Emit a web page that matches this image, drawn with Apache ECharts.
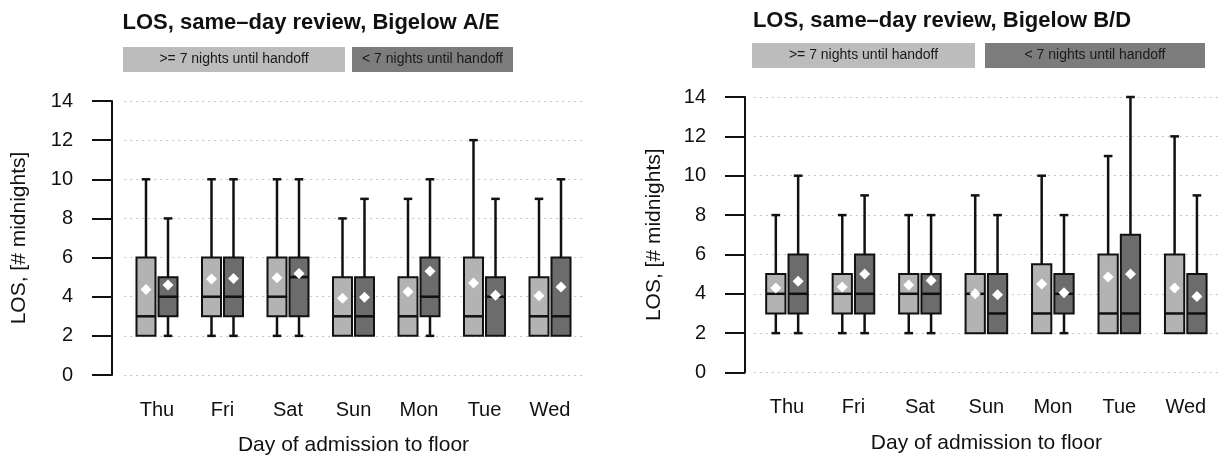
<!DOCTYPE html>
<html>
<head>
<meta charset="utf-8">
<script src="https://cdn.jsdelivr.net/npm/echarts@6/dist/echarts.min.js"></script>
<style>
  html, body { margin: 0; padding: 0; background: #fff; }
  #chart { width: 1219px; height: 461px; }
</style>
</head>
<body>
<div id="chart"></div>
<script>
// Day of admission to floor
const days = ['Thu', 'Fri', 'Sat', 'Sun', 'Mon', 'Tue', 'Wed'];
const yTicks = [0, 2, 4, 6, 8, 10, 12, 14];

// Length of stay per day: [lower whisker, Q1, median, Q3, upper whisker, mean]
// Bigelow A/E
const aeLong = [
  [2, 2, 3, 6, 10, 4.37],
  [2, 3, 4, 6, 10, 4.9],
  [2, 3, 4, 6, 10, 4.97],
  [2, 2, 3, 5, 8, 3.92],
  [2, 2, 3, 5, 9, 4.25],
  [2, 2, 3, 6, 12, 4.7],
  [2, 2, 3, 5, 9, 4.05]
];
const aeShort = [
  [2, 3, 4, 5, 8, 4.6],
  [2, 3, 4, 6, 10, 4.93],
  [2, 3, 5, 6, 10, 5.18],
  [2, 2, 3, 5, 9, 3.97],
  [2, 3, 4, 6, 10, 5.3],
  [2, 2, 4, 5, 9, 4.08],
  [2, 2, 3, 6, 10, 4.5]
];
// Bigelow B/D
const bdLong = [
  [2, 3, 4, 5, 8, 4.3],
  [2, 3, 4, 5, 8, 4.34],
  [2, 3, 4, 5, 8, 4.45],
  [2, 2, 4, 5, 9, 4.0],
  [2, 2, 3, 5.5, 10, 4.5],
  [2, 2, 3, 6, 11, 4.85],
  [2, 2, 3, 6, 12, 4.3]
];
const bdShort = [
  [2, 3, 4, 6, 10, 4.64],
  [2, 3, 4, 6, 9, 5.0],
  [2, 3, 4, 5, 8, 4.68],
  [2, 2, 3, 5, 8, 3.95],
  [2, 3, 4, 5, 8, 4.05],
  [2, 2, 3, 7, 14, 5.0],
  [2, 2, 3, 5, 9, 3.86]
];

const groupNames = ['>= 7 nights until handoff', '< 7 nights until handoff'];
const titles = ['LOS, same\u2013day review, Bigelow A/E', 'LOS, same\u2013day review, Bigelow B/D'];

const FONT = '"Liberation Sans", Arial, Helvetica, sans-serif';
const LIGHT = '#b3b3b3';
const DARK = '#6c6c6c';
const INK = '#111';

// One box-and-whisker glyph per category, shifted left or right of the band centre
function boxRenderer(side, fill) {
  return function (params, api) {
    const i = api.value(0);
    const low = api.value(1), q1 = api.value(2), med = api.value(3);
    const q3 = api.value(4), high = api.value(5), mean = api.value(6);
    const bw = api.size([1, 0])[0];
    const cx = api.coord([i, 0])[0] + side * 0.168 * bw;
    const hw = 0.145 * bw;
    const cap = 0.45 * hw;
    const y = v => api.coord([i, v])[1];
    const line = { stroke: INK, lineWidth: 2.5 };
    const kids = [];
    kids.push({ type: 'line', shape: { x1: cx, y1: y(q3), x2: cx, y2: y(high) }, style: line });
    kids.push({ type: 'line', shape: { x1: cx - cap, y1: y(high), x2: cx + cap, y2: y(high) }, style: line });
    if (low < q1) {
      kids.push({ type: 'line', shape: { x1: cx, y1: y(q1), x2: cx, y2: y(low) }, style: line });
      kids.push({ type: 'line', shape: { x1: cx - cap, y1: y(low), x2: cx + cap, y2: y(low) }, style: line });
    }
    kids.push({
      type: 'rect',
      shape: { x: cx - hw, y: y(q3), width: 2 * hw, height: y(q1) - y(q3) },
      style: { fill: fill, stroke: INK, lineWidth: 2 }
    });
    kids.push({ type: 'line', shape: { x1: cx - hw, y1: y(med), x2: cx + hw, y2: y(med) }, style: { stroke: INK, lineWidth: 2.5 } });
    const ym = y(mean), d = 5.5;
    kids.push({
      type: 'polygon',
      shape: { points: [[cx, ym - d], [cx + d, ym], [cx, ym + d], [cx - d, ym]] },
      style: { fill: '#fff' }
    });
    return { type: 'group', children: kids };
  };
}

function toData(arr) {
  return arr.map((s, i) => [i].concat(s));
}

const grids = [
  { left: 124.25, top: 101, width: 458.5, height: 276 },
  { left: 753.75, top: 97, width: 466.5, height: 275.5 }
];
const yOffsets = [12.25, 8.75];
const yNameGap = [82, 80];

const xAxes = grids.map((g, k) => ({
  type: 'category',
  gridIndex: k,
  data: days,
  axisLine: { show: false },
  axisTick: { show: false },
  axisLabel: { fontSize: 20, color: INK, fontFamily: FONT, margin: 25 },
  name: 'Day of admission to floor',
  nameLocation: 'middle',
  nameGap: 60,
  nameTextStyle: { fontSize: 21, color: INK, fontFamily: FONT }
}));

const yAxes = grids.map((g, k) => ({
  type: 'value',
  gridIndex: k,
  min: yTicks[0],
  max: yTicks[yTicks.length - 1],
  interval: yTicks[1] - yTicks[0],
  offset: yOffsets[k],
  axisLine: { show: true, lineStyle: { color: INK, width: 2 } },
  axisTick: { show: true, length: 20, lineStyle: { color: INK, width: 2 } },
  axisLabel: { fontSize: 20, color: INK, fontFamily: FONT, margin: 39 },
  splitLine: { show: true, lineStyle: { color: '#c4c4c4', type: [2, 4], width: 1.2 } },
  name: 'LOS, [# midnights]',
  nameLocation: 'middle',
  nameGap: yNameGap[k],
  nameRotate: 90,
  nameTextStyle: { fontSize: 21, color: INK, fontFamily: FONT }
}));

const seriesSets = [[aeLong, aeShort], [bdLong, bdShort]];
const series = [];
seriesSets.forEach((pair, k) => {
  pair.forEach((arr, j) => {
    series.push({
      type: 'custom',
      name: groupNames[j],
      xAxisIndex: k,
      yAxisIndex: k,
      clip: false,
      renderItem: boxRenderer(j === 0 ? -1 : 1, j === 0 ? LIGHT : DARK),
      encode: { x: 0, y: [1, 2, 3, 4, 5, 6] },
      data: toData(arr)
    });
  });
});

// Legend strips drawn above each panel
const legendBoxes = [
  [{ x: 123, w: 222 }, { x: 352, w: 161 }],
  [{ x: 752, w: 223 }, { x: 985, w: 220 }]
];
const legendTop = [47, 43];
const graphic = [];
legendBoxes.forEach((pair, k) => {
  pair.forEach((b, j) => {
    graphic.push({
      type: 'rect',
      left: b.x, top: legendTop[k],
      shape: { width: b.w, height: 25 },
      style: { fill: j === 0 ? '#bcbcbc' : '#7c7c7c' }
    });
    graphic.push({
      type: 'text',
      x: b.x + b.w / 2, y: legendTop[k] + 12.5,
      style: {
        text: groupNames[j], fontSize: 14, fontFamily: FONT,
        fill: '#1a1a1a', align: 'center', verticalAlign: 'middle'
      }
    });
  });
});

const chart = echarts.init(document.getElementById('chart'), null, { renderer: 'canvas' });
chart.setOption({
  backgroundColor: '#fff',
  animation: false,
  title: [
    { text: titles[0], left: 306, top: 7, textAlign: 'center',
      textStyle: { fontSize: 22, fontWeight: 'bold', color: INK, fontFamily: FONT } },
    { text: titles[1], left: 937, top: 5, textAlign: 'center',
      textStyle: { fontSize: 22, fontWeight: 'bold', color: INK, fontFamily: FONT } }
  ],
  grid: grids,
  xAxis: xAxes,
  yAxis: yAxes,
  series: series,
  graphic: graphic
});
</script>
</body>
</html>
